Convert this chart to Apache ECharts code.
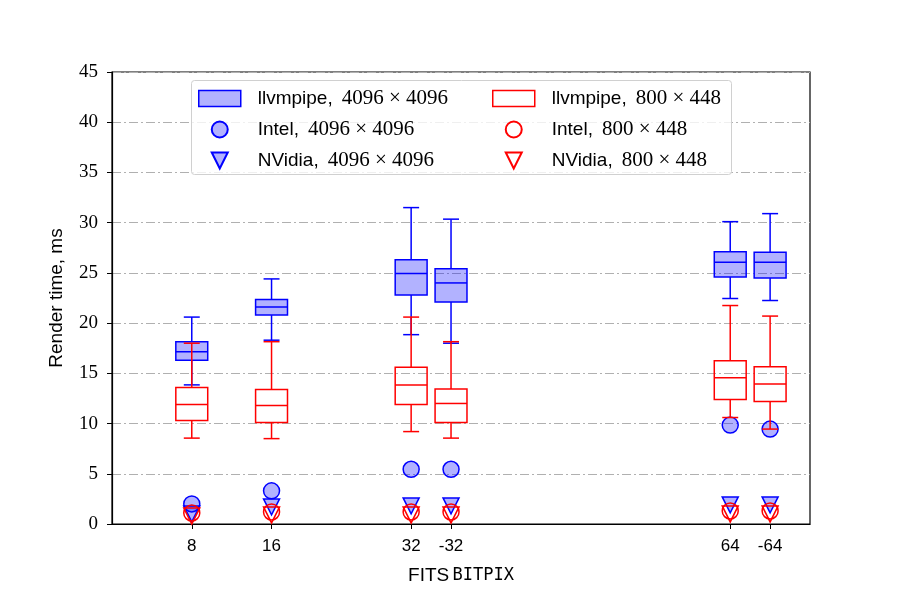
<!DOCTYPE html>
<html>
<head>
<meta charset="utf-8">
<script src="https://cdn.jsdelivr.net/npm/echarts@6/dist/echarts.min.js"></script>
<style>
  html, body { margin: 0; padding: 0; background: #fff; }
  #main { width: 900px; height: 600px; }
</style>
</head>
<body>
<div id="main"></div>
<script>
// x positions used on the plot and the BITPIX labels shown there
var xPos = [8, 16, 30, 34, 62, 66];
var xLabels = ['8', '16', '32', '-32', '64', '-64'];

// boxes: [min, q1, median, q3, max]
var llvmBig = [
  [13.85, 16.3, 17.15, 18.15, 20.6],
  [18.3, 20.8, 21.6, 22.35, 24.4],
  [18.85, 22.8, 24.95, 26.3, 31.5],
  [18.0, 22.1, 24.0, 25.4, 30.35],
  [22.45, 24.6, 26.05, 27.1, 30.1],
  [22.25, 24.5, 26.05, 27.05, 30.9]
];
var llvmSmall = [
  [8.55, 10.3, 11.9, 13.6, 18.0],
  [8.5, 10.1, 11.8, 13.4, 18.15],
  [9.2, 11.9, 13.85, 15.6, 20.6],
  [8.55, 10.1, 12.0, 13.45, 18.15],
  [10.6, 12.4, 14.55, 16.25, 21.75],
  [9.45, 12.2, 13.95, 15.65, 20.7]
];
var intelBig = [2.0, 3.3, 5.45, 5.45, 9.85, 9.45];
var nvidiaBig = [1.0, 1.7, 1.8, 1.8, 1.9, 1.9];
var intelSmall = [1.1, 1.2, 1.2, 1.2, 1.3, 1.3];
var nvidiaSmall = [0.8, 0.9, 0.9, 0.9, 1.0, 1.0];

var BLUE = '#0000ff', RED = '#ff0000', FILL = 'rgba(0,0,255,0.3)';
var BOX_W = 3.2;
var triDown = 'path://M0,0 L20,0 L10,20 Z';

function boxData(arr) {
  return arr.map(function (b, i) { return [xPos[i]].concat(b); });
}
function pts(arr) {
  return arr.map(function (v, i) { return [xPos[i], v]; });
}

function makeBoxRender(stroke, fill) {
  return function (params, api) {
    var x = api.value(0);
    var w = api.size([BOX_W, 0])[0];
    var pMin = api.coord([x, api.value(1)]);
    var pQ1 = api.coord([x, api.value(2)]);
    var pMed = api.coord([x, api.value(3)]);
    var pQ3 = api.coord([x, api.value(4)]);
    var pMax = api.coord([x, api.value(5)]);
    var cx = pMin[0];
    var ls = { stroke: stroke, lineWidth: 1.5, fill: null };
    return {
      type: 'group',
      children: [
        { type: 'line', shape: { x1: cx, y1: pMin[1], x2: cx, y2: pQ1[1] }, style: ls },
        { type: 'line', shape: { x1: cx, y1: pQ3[1], x2: cx, y2: pMax[1] }, style: ls },
        { type: 'line', shape: { x1: cx - w / 4, y1: pMin[1], x2: cx + w / 4, y2: pMin[1] }, style: ls },
        { type: 'line', shape: { x1: cx - w / 4, y1: pMax[1], x2: cx + w / 4, y2: pMax[1] }, style: ls },
        { type: 'rect', shape: { x: cx - w / 2, y: pQ3[1], width: w, height: pQ1[1] - pQ3[1] },
          style: { stroke: stroke, lineWidth: 1.5, fill: fill } },
        { type: 'line', shape: { x1: cx - w / 2, y1: pMed[1], x2: cx + w / 2, y2: pMed[1] }, style: ls }
      ]
    };
  };
}

var sans = 'Liberation Sans';
var serif = 'Liberation Serif';
var legendRich = {
  s: { fontFamily: sans, fontSize: 19, color: '#000', lineHeight: 20 },
  g: { width: 9, lineHeight: 20 },
  m: { fontFamily: serif, fontSize: 21, color: '#000', lineHeight: 20 }
};
function legendFmt(name) {
  var parts = name.split(', ');
  return '{s|' + parts[0] + ',}{g| }{m|' + parts[1] + '}';
}

var chart = echarts.init(document.getElementById('main'));
chart.setOption({
  animation: false,
  backgroundColor: '#fff',
  grid: { left: 112, right: 90, top: 72, bottom: 76, show: true, borderColor: '#000', borderWidth: 1.2, backgroundColor: 'transparent' },
  xAxis: {
    type: 'value', min: 0, max: 70,
    name: '{a|FITS} {b|BITPIX}', nameLocation: 'middle', nameGap: 42,
    nameTextStyle: { rich: { a: { fontFamily: sans, fontSize: 19, color: '#000' }, b: { fontFamily: 'DejaVu Sans Mono', fontSize: 17, color: '#000' } } },
    axisLine: { show: true, lineStyle: { color: '#000', width: 1.2 } },
    axisTick: { show: true, customValues: xPos, length: 5, lineStyle: { color: '#000' } },
    axisLabel: {
      customValues: xPos, fontFamily: sans, fontSize: 17, color: '#000', margin: 14,
      formatter: function (v) { var i = xPos.indexOf(v); return i >= 0 ? xLabels[i] : ''; }
    },
    splitLine: { show: false }
  },
  yAxis: {
    type: 'value', min: 0, max: 45, interval: 5,
    name: 'Render time, ms', nameLocation: 'middle', nameGap: 46,
    nameTextStyle: { fontFamily: sans, fontSize: 19, color: '#000' },
    axisLine: { show: true, lineStyle: { color: '#000', width: 1.2 } },
    axisTick: { show: true, length: 5, lineStyle: { color: '#000' } },
    axisLabel: { fontFamily: serif, fontSize: 19, color: '#000', margin: 14 },
    splitLine: { show: true, lineStyle: { color: '#b0b0b0', width: 1.2, type: [9, 3, 2, 3] } }
  },
  graphic: [{
    type: 'rect', left: 191, top: 80, z: 5,
    shape: { width: 540, height: 94, r: 3 },
    style: { fill: 'rgba(255,255,255,0.8)', stroke: '#d0d0d0', lineWidth: 1 }
  }],
  legend: [{
    orient: 'vertical', left: 193, top: 83, z: 10,
    itemWidth: 42, itemHeight: 16, itemGap: 10,
    textStyle: { rich: legendRich, padding: [0, 0, 0, 12] },
    formatter: legendFmt,
    data: [
      { name: 'llvmpipe, 4096 × 4096', icon: 'rect', itemStyle: { color: FILL, borderColor: BLUE, borderWidth: 1.5 } },
      { name: 'Intel, 4096 × 4096', icon: 'circle' },
      { name: 'NVidia, 4096 × 4096', icon: triDown }
    ]
  }, {
    orient: 'vertical', left: 487, top: 83, z: 10,
    itemWidth: 42, itemHeight: 16, itemGap: 10,
    textStyle: { rich: legendRich, padding: [0, 0, 0, 12] },
    formatter: legendFmt,
    data: [
      { name: 'llvmpipe, 800 × 448', icon: 'rect', itemStyle: { color: 'rgba(255,255,255,0)', borderColor: RED, borderWidth: 1.5 } },
      { name: 'Intel, 800 × 448', icon: 'circle' },
      { name: 'NVidia, 800 × 448', icon: triDown }
    ]
  }],
  series: [
    {
      name: 'llvmpipe, 4096 × 4096', type: 'custom', z: 2,
      itemStyle: { color: FILL, borderColor: BLUE, borderWidth: 1.5 },
      renderItem: makeBoxRender(BLUE, FILL),
      encode: { x: 0, y: [1, 2, 3, 4, 5] },
      data: boxData(llvmBig)
    },
    {
      name: 'Intel, 4096 × 4096', type: 'scatter', z: 3, symbol: 'circle', symbolSize: 16,
      itemStyle: { color: FILL, borderColor: BLUE, borderWidth: 1.5, opacity: 1 },
      data: pts(intelBig)
    },
    {
      name: 'NVidia, 4096 × 4096', type: 'scatter', z: 3, symbol: triDown, symbolSize: 16,
      itemStyle: { color: FILL, borderColor: BLUE, borderWidth: 1.5, opacity: 1 },
      data: pts(nvidiaBig)
    },
    {
      name: 'llvmpipe, 800 × 448', type: 'custom', z: 4,
      itemStyle: { color: 'rgba(255,255,255,0)', borderColor: RED, borderWidth: 1.5 },
      renderItem: makeBoxRender(RED, 'rgba(255,255,255,0)'),
      encode: { x: 0, y: [1, 2, 3, 4, 5] },
      data: boxData(llvmSmall)
    },
    {
      name: 'Intel, 800 × 448', type: 'scatter', z: 5, symbol: 'circle', symbolSize: 16,
      itemStyle: { color: 'rgba(255,255,255,0)', borderColor: RED, borderWidth: 1.5, opacity: 1 },
      data: pts(intelSmall)
    },
    {
      name: 'NVidia, 800 × 448', type: 'scatter', z: 5, symbol: triDown, symbolSize: 16,
      itemStyle: { color: 'rgba(255,255,255,0)', borderColor: RED, borderWidth: 1.5, opacity: 1 },
      data: pts(nvidiaSmall)
    }
  ]
});
</script>
</body>
</html>
